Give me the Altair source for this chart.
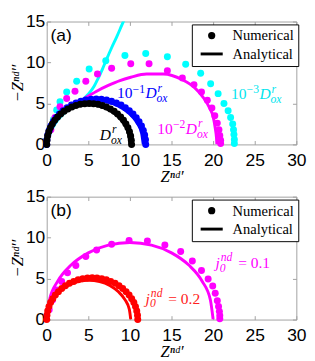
import altair as alt
import pandas as pd

# ---------------- panel (a) : numerical (dots) ----------------
a_cyan_dx = [0.4, 0.8, 1.2, 1.6, 2.4, 3.6, 5.1, 7.1, 9.4, 11.9, 14.5, 16.7, 18.5, 19.7, 20.6, 21.3, 21.8, 22.1, 22.35, 22.45, 22.5, 22.55, 22.55]
a_cyan_dy = [1.8, 3.0, 4.2, 5.2, 6.4, 7.7, 9.2, 10.2, 10.85, 11.1, 10.7, 9.8, 8.7, 7.4, 6.2, 5.0, 4.1, 3.3, 2.5, 1.8, 1.2, 0.6, 0.1]
a_mag_dx = [0.5, 1.0, 1.6, 2.4, 3.4, 4.7, 6.1, 7.8, 10.1, 12.3, 14.5, 16.3, 17.7, 18.6, 19.3, 19.85, 20.2, 20.5, 20.7, 20.8, 20.9, 20.9]
a_mag_dy = [1.8, 3.3, 4.6, 5.6, 6.5, 7.7, 8.6, 9.3, 9.85, 9.85, 9.0, 8.1, 7.3, 6.4, 5.4, 4.45, 3.5, 2.6, 1.8, 1.1, 0.5, 0.1]
a_blue_dx = [0, 0.03, 0.13, 0.29, 0.51, 0.80, 1.14, 1.53, 1.97, 2.45, 2.98, 3.53, 4.11, 4.71, 5.33, 5.95, 6.57, 7.19, 7.79, 8.37, 8.93, 9.45, 9.93, 10.37, 10.76, 11.10, 11.39, 11.61, 11.77, 11.87, 11.90]
a_blue_dy = [0, 0.58, 1.15, 1.71, 2.26, 2.78, 3.26, 3.71, 4.12, 4.49, 4.81, 5.07, 5.28, 5.43, 5.52, 5.55, 5.52, 5.43, 5.28, 5.07, 4.81, 4.49, 4.12, 3.71, 3.26, 2.78, 2.26, 1.71, 1.15, 0.58, 0]
a_black_dx = [0, 0.03, 0.11, 0.25, 0.44, 0.68, 0.97, 1.31, 1.69, 2.10, 2.55, 3.03, 3.52, 4.04, 4.57, 5.10, 5.63, 6.16, 6.68, 7.17, 7.65, 8.10, 8.51, 8.89, 9.23, 9.52, 9.76, 9.95, 10.09, 10.17, 10.20]
a_black_dy = [0, 0.52, 1.04, 1.55, 2.03, 2.50, 2.94, 3.35, 3.72, 4.05, 4.33, 4.57, 4.76, 4.89, 4.97, 5.00, 4.97, 4.89, 4.76, 4.57, 4.33, 4.05, 3.72, 3.35, 2.94, 2.50, 2.03, 1.55, 1.04, 0.52, 0]

# ---------------- panel (a) : analytical (lines) ----------------
a_cyan_lx = [0, 0.4, 1.0, 1.9, 3.1, 4.2, 5.05, 5.7, 6.2, 6.7, 7.2, 7.8, 8.4, 9.0, 9.6]
a_cyan_ly = [0, 1.3, 2.5, 3.6, 4.65, 5.4, 6.2, 7.1, 8.1, 9.2, 10.4, 11.8, 13.1, 14.5, 15.9]
a_mag_lx = [0, 0.3, 0.8, 1.5, 2.5, 3.4, 4.5, 6.0, 7.4, 8.8, 10.1, 12.0, 14.0, 16.3, 17.8, 18.8, 19.6, 20.0, 20.25, 20.4, 20.45]
a_mag_ly = [0, 1.5, 2.8, 3.8, 4.6, 5.1, 5.6, 6.5, 7.2, 7.8, 8.2, 8.6, 8.6, 7.9, 6.9, 5.75, 4.4, 3.4, 2.0, 0.8, 0]
a_blue_lx = [0, 0.20, 0.78, 1.70, 2.90, 4.30, 5.80, 7.30, 8.70, 9.90, 10.82, 11.40, 11.60]
a_blue_ly = [0, 1.38, 2.68, 3.78, 4.63, 5.17, 5.35, 5.17, 4.63, 3.78, 2.68, 1.38, 0]
a_black_lx = [0, 0.17, 0.67, 1.46, 2.50, 3.71, 5.00, 6.29, 7.50, 8.54, 9.33, 9.83, 10.00]
a_black_ly = [0, 1.26, 2.43, 3.43, 4.20, 4.68, 4.85, 4.68, 4.20, 3.43, 2.43, 1.26, 0]

# ---------------- panel (b) ----------------
b_mag_dx = [0.3, 0.7, 1.2, 1.8, 2.5, 3.5, 4.7, 6.0, 7.8, 9.9, 12.1, 14.2, 16.1, 17.5, 18.6, 19.4, 19.95, 20.25, 20.5, 20.65, 20.75, 20.8, 20.8]
b_mag_dy = [1.2, 2.4, 3.6, 4.65, 5.7, 6.6, 7.7, 8.5, 9.2, 9.65, 9.6, 9.1, 8.3, 7.15, 6.0, 4.96, 4.1, 3.2, 2.3, 1.6, 1.0, 0.5, 0.1]
b_red_dx = [0, 0.03, 0.12, 0.27, 0.47, 0.73, 1.04, 1.41, 1.81, 2.25, 2.74, 3.25, 3.78, 4.33, 4.90, 5.47, 6.04, 6.61, 7.16, 7.69, 8.21, 8.69, 9.13, 9.54, 9.90, 10.21, 10.47, 10.67, 10.82, 10.91, 10.94]
b_red_dy = [0, 0.53, 1.06, 1.58, 2.07, 2.55, 3.00, 3.41, 3.79, 4.13, 4.42, 4.66, 4.85, 4.99, 5.07, 5.10, 5.07, 4.99, 4.85, 4.66, 4.42, 4.13, 3.79, 3.41, 3.00, 2.55, 2.07, 1.58, 1.06, 0.53, 0]
b_mag_lx = [0, 0.34, 1.34, 2.93, 5.00, 7.41, 10.00, 12.59, 15.00, 17.07, 18.66, 19.66, 20.00]
b_mag_ly = [0, 2.43, 4.70, 6.65, 8.14, 9.08, 9.40, 9.08, 8.14, 6.65, 4.70, 2.43, 0]
b_red_lx = [0, 0.17, 0.68, 1.48, 2.53, 3.74, 5.05, 6.36, 7.58, 8.62, 9.42, 9.93, 10.10]
b_red_ly = [0, 1.24, 2.40, 3.39, 4.16, 4.64, 4.80, 4.64, 4.16, 3.39, 2.40, 1.24, 0]

# ---------------- annotations ----------------
a_lab_x = [7.73, 13.2, 18.05, 26.9]
a_lab_y = [1.13, 6.2, 1.9, 6.1]
a_lab_pre = ["", "10", "10", "10"]
a_lab_pexp = ["", "−1", "−2", "−3"]
a_lab_col = ["#000000", "#0000ff", "#ff00ff", "#00e5ee"]
b_lab_x = [20.8, 12.4]
b_lab_y = [6.9, 2.55]
b_lab_post = ["= 0.1", "= 0.2"]
b_lab_col = ["#ff00ff", "#ff2020"]

x_ticks = [0, 5, 10, 15, 20, 25, 30]
y_ticks = [0, 5, 10, 15]

CYAN, MAG, BLUE, BLACK, RED = "#00ffff", "#ff00ff", "#0000ff", "#000000", "#ff0000"
W, H = 258, 127
FRAME = "#a0a0a0"
SERIF = "Liberation Serif"
SANS = "Liberation Sans"


def dots(series):
    rows = []
    for name, xs, ys, col in series:
        for i, (x, y) in enumerate(zip(xs, ys)):
            rows.append({"x": x, "y": y, "col": col, "series": name, "kind": "Numerical", "ord": i})
    return pd.DataFrame(rows)


def lines(series):
    rows = []
    for name, xs, ys, col in series:
        for i, (x, y) in enumerate(zip(xs, ys)):
            rows.append({"x": x, "y": y, "col": col, "series": name, "ord": i})
    return pd.DataFrame(rows)


xs = alt.Scale(domain=[0, 30], nice=False, zero=False)
ys = alt.Scale(domain=[0, 15], nice=False, zero=False)


def main_axes():
    xa = alt.Axis(values=x_ticks, orient="bottom", title="Zⁿᵈ′", titleFont=SERIF, titleFontStyle="italic",
                  titleFontSize=17, titleFontWeight="normal", titleColor="black", titlePadding=-1,
                  labelFont=SANS, labelFontSize=18, labelColor="black", labelPadding=8, labelFlush=False,
                  ticks=False, tickSize=0, domain=False, grid=False)
    ya = alt.Axis(values=y_ticks, orient="left", title="−Zⁿᵈ′′", titleFont=SERIF, titleFontStyle="italic",
                  titleFontSize=17, titleFontWeight="normal", titleColor="black", titlePadding=-1,
                  labelFont=SANS, labelFontSize=18, labelColor="black", labelPadding=2, labelFlush=False,
                  ticks=False, tickSize=0, domain=False, grid=False)
    return xa, ya


def tick_axis(values, orient, offset):
    return alt.Axis(values=values, orient=orient, offset=offset, labels=False, ticks=True, tickSize=4,
                    tickColor=FRAME, tickWidth=1, domain=False, grid=False, title=None)


def panel(dot_series, line_series, labels_df, letter):
    ddf = dots(dot_series)
    ldf = lines(line_series)
    xa, ya = main_axes()
    line_layer = alt.Chart(ldf).mark_line(strokeWidth=3, interpolate="monotone", clip=True).encode(
        x=alt.X("x:Q", scale=xs, axis=xa),
        y=alt.Y("y:Q", scale=ys, axis=ya),
        color=alt.Color("col:N", scale=None),
        detail="series:N",
        order="ord:Q",
    )
    legend = alt.Legend(title=None, orient="none", legendX=150, legendY=3, strokeColor="black",
                        fillColor="white", padding=4, labelFont=SERIF, labelFontSize=15,
                        labelColor="black", symbolSize=20, symbolStrokeWidth=3, symbolStrokeColor="black",
                        symbolFillColor="black", symbolOffset=9, labelOffset=14, rowPadding=3)
    dot_layer = alt.Chart(ddf).mark_point(filled=True, size=52, opacity=1, strokeWidth=0).encode(
        x=alt.X("x:Q", scale=xs, axis=None),
        y=alt.Y("y:Q", scale=ys, axis=None),
        color=alt.Color("col:N", scale=None),
        shape=alt.Shape("kind:N", scale=alt.Scale(domain=["Numerical", "Analytical"],
                                                  range=["circle", "M-5.1,0H5.1"]), legend=legend),
    )
    t1 = alt.Chart(ddf).mark_point(opacity=0).encode(
        x=alt.X("x:Q", scale=xs, axis=tick_axis(x_ticks, "top", -H)),
        y=alt.Y("y:Q", scale=ys, axis=tick_axis(y_ticks, "right", -W)),
    )
    t2 = alt.Chart(ddf).mark_point(opacity=0).encode(
        x=alt.X("x:Q", scale=xs, axis=tick_axis(x_ticks, "bottom", -H)),
        y=alt.Y("y:Q", scale=ys, axis=tick_axis(y_ticks, "left", -W)),
    )
    base = alt.Chart(labels_df).encode(x=alt.X("x:Q", scale=xs, axis=None), y=alt.Y("y:Q", scale=ys, axis=None),
                                       color=alt.Color("col:N", scale=None))
    pre = base.mark_text(align="right", baseline="middle", dx=-25, font=SERIF, fontSize=16).encode(text="pre:N")
    pexp = base.mark_text(align="right", baseline="middle", dx=-12, dy=-5, font=SERIF, fontSize=12).encode(text="pexp:N")
    main = base.mark_text(align="right", baseline="middle", font=SERIF, fontStyle="italic", fontSize=16).encode(text="main:N")
    sup = base.mark_text(align="left", baseline="middle", dx=1, dy=-6, font=SERIF, fontStyle="italic", fontSize=12).encode(text="sup:N")
    sub = base.mark_text(align="left", baseline="middle", dx=0, dy=5, font=SERIF, fontStyle="italic", fontSize=12).encode(text="sub:N")
    post = base.mark_text(align="left", baseline="middle", dx=19, font=SERIF, fontSize=16).encode(text="post:N")
    letter_layer = alt.Chart(pd.DataFrame({"t": [letter]})).mark_text(
        align="left", baseline="middle", font=SANS, fontSize=18, color="black"
    ).encode(x=alt.value(4), y=alt.value(15), text="t:N")
    return alt.layer(line_layer, dot_layer, t1, t2, pre, pexp, main, sup, sub, post, letter_layer).resolve_axis(
        x="independent", y="independent").properties(width=W, height=H)


a_dots = [("c", a_cyan_dx, a_cyan_dy, CYAN), ("m", a_mag_dx, a_mag_dy, MAG),
          ("b", a_blue_dx, a_blue_dy, BLUE), ("k", a_black_dx, a_black_dy, BLACK)]
a_lines = [("c", a_cyan_lx, a_cyan_ly, CYAN), ("m", a_mag_lx, a_mag_ly, MAG),
           ("b", a_blue_lx, a_blue_ly, BLUE), ("k", a_black_lx, a_black_ly, BLACK)]
b_dots = [("m", b_mag_dx, b_mag_dy, MAG), ("r", b_red_dx, b_red_dy, RED)]
b_lines = [("m", b_mag_lx, b_mag_ly, MAG), ("r", b_red_lx, b_red_ly, RED)]

a_labels = pd.DataFrame({"x": a_lab_x, "y": a_lab_y, "col": a_lab_col, "pre": a_lab_pre, "pexp": a_lab_pexp,
                         "main": ["D"] * 4, "sup": ["r"] * 4, "sub": ["ox"] * 4, "post": [""] * 4})
b_labels = pd.DataFrame({"x": b_lab_x, "y": b_lab_y, "col": b_lab_col, "pre": [""] * 2, "pexp": [""] * 2,
                         "main": ["j"] * 2, "sup": ["nd"] * 2, "sub": ["0"] * 2, "post": b_lab_post})

pa = panel(a_dots, a_lines, a_labels, "(a)")
pb = panel(b_dots, b_lines, b_labels, "(b)")

chart = alt.vconcat(pa, pb, spacing=2).resolve_scale(shape="independent").resolve_legend(
    shape="independent").properties(padding={"top": -2, "left": 0, "right": 0, "bottom": 0}).configure_view(
    stroke=FRAME, strokeWidth=1)

chart.save("out.html", embed_options={"renderer": "svg", "actions": False})
